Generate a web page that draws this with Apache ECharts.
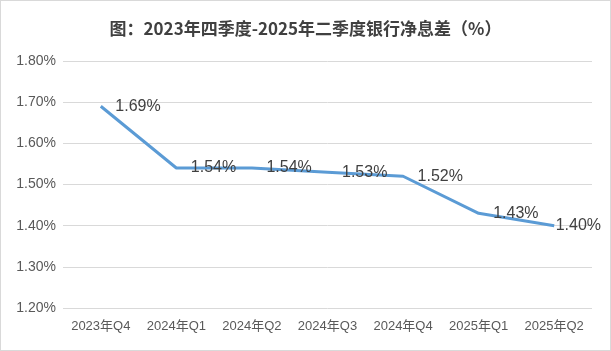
<!DOCTYPE html>
<html>
<head>
<meta charset="utf-8">
<script src="https://cdn.jsdelivr.net/npm/echarts@6/dist/echarts.min.js"></script>
<style>
  html, body { margin: 0; padding: 0; background: #fff; }
  #chart { width: 611px; height: 351px; box-sizing: border-box; border: 1px solid #d9d9d9; }
</style>
</head>
<body>
<div id="chart"></div>
<script>
var quarters = ["2023年Q4", "2024年Q1", "2024年Q2", "2024年Q3", "2024年Q4", "2025年Q1", "2025年Q2"];
var netMargin = [1.69, 1.54, 1.54, 1.53, 1.52, 1.43, 1.40];
var yTicks = { min: 1.2, max: 1.8, step: 0.1 };

var chart = echarts.init(document.getElementById("chart"));

// 数据点标签：最后一个点贴近右侧
var seriesData = netMargin.map(function (v, i) {
    var item = { value: v };
    if (i === netMargin.length - 1) {
        item.label = { distance: 1 };
    }
    return item;
});

chart.setOption({
    animation: false,
    title: {
        text: "图：2023年四季度-2025年二季度银行净息差（%）",
        left: "center",
        top: 14,
        textStyle: {
            fontSize: 17,
            fontWeight: "bold",
            color: "#404040",
            fontFamily: "Noto Sans CJK SC"
        }
    },
    grid: { left: 62, right: 18, top: 60, bottom: 42 },
    xAxis: {
        type: "category",
        data: quarters,
        boundaryGap: true,
        axisLine: { show: false },
        axisTick: { show: false },
        axisLabel: {
            interval: 0,
            color: "#595959",
            fontSize: 13,
            margin: 12,
            fontFamily: "Liberation Sans, Noto Sans CJK SC"
        }
    },
    yAxis: {
        type: "value",
        min: yTicks.min,
        max: yTicks.max,
        interval: yTicks.step,
        axisLine: { show: false },
        axisTick: { show: false },
        splitLine: { lineStyle: { color: "#d9d9d9", width: 1 } },
        axisLabel: {
            color: "#595959",
            fontSize: 14,
            margin: 7,
            fontFamily: "Liberation Sans",
            formatter: function (v) { return v.toFixed(2) + "%"; }
        }
    },
    series: [{
        type: "line",
        data: seriesData,
        symbol: "circle",
        symbolSize: 1,
        itemStyle: { color: "rgba(0,0,0,0)" },
        lineStyle: { color: "#5b9bd5", width: 3 },
        label: {
            show: true,
            position: "right",
            distance: 14,
            color: "#404040",
            fontSize: 16,
            fontFamily: "Liberation Sans",
            formatter: function (p) { return p.value.toFixed(2) + "%"; }
        }
    }]
});
</script>
</body>
</html>
